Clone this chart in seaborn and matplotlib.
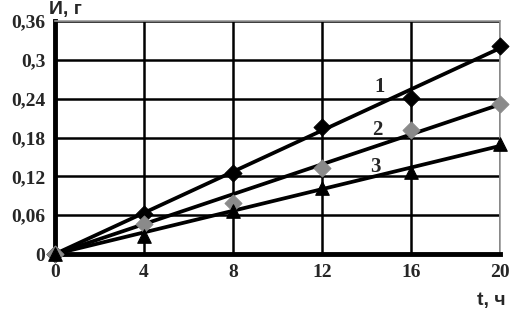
import numpy as np
import pandas as pd
import matplotlib
matplotlib.use("Agg")
import matplotlib.pyplot as plt
import seaborn as sns

t = [0, 4, 8, 12, 16, 20]
m1 = [0, 0.062, 0.125, 0.196, 0.241, 0.321]
m2 = [0, 0.046, 0.079, 0.133, 0.192, 0.232]
m3 = [0, 0.028, 0.066, 0.102, 0.127, 0.170]

# straight fit lines (start and end values)
fit_t = [0, 20]
fit1 = [0, 0.318]
fit2 = [0, 0.231]
fit3 = [0, 0.167]

curve_labels = ["1", "2", "3"]
label_t = [14.6, 14.5, 14.4]
label_y = [0.258, 0.191, 0.134]

x_ticks = [0, 4, 8, 12, 16, 20]
y_ticks = [0, 0.06, 0.12, 0.18, 0.24, 0.30, 0.36]
y_ticklabels = ["0", "0,06", "0,12", "0,18", "0,24", "0,3", "0,36"]

sns.set_style("white")
fig = plt.figure(figsize=(5.12, 3.10), dpi=100)
ax = fig.add_axes([0.1074, 0.1806, 0.8692, 0.7517])

# fit lines
for fy in [fit1, fit2, fit3]:
    sns.lineplot(x=fit_t, y=fy, color="black", linewidth=2.7, ax=ax, zorder=3)

# markers
sns.scatterplot(x=t, y=m1, marker="D", color="black", s=75, edgecolor="black",
                ax=ax, zorder=4, clip_on=False)
sns.scatterplot(x=t, y=m2, marker="D", color="#8a8a8a", s=75, edgecolor="#8a8a8a",
                ax=ax, zorder=4, clip_on=False)
sns.scatterplot(x=t, y=m3, marker="^", color="black", s=95, edgecolor="black",
                ax=ax, zorder=4, clip_on=False)

for lab, lx, ly in zip(curve_labels, label_t, label_y):
    ax.text(lx, ly, lab, fontsize=15, fontweight="bold", family="Liberation Serif",
            ha="center", va="center", zorder=5)

ax.set_xlim(0, 20)
ax.set_ylim(0, 0.36)
ax.set_xticks(x_ticks)
ax.set_yticks(y_ticks)
ax.set_yticklabels(y_ticklabels)
ax.grid(True, color="black", linewidth=1.8)
ax.set_axisbelow(True)
ax.tick_params(length=0, pad=7)
for lbl in ax.get_xticklabels() + ax.get_yticklabels():
    lbl.set_family("Liberation Serif")
    lbl.set_fontweight("bold")
    lbl.set_fontsize(14)

for side in ["left", "bottom"]:
    ax.spines[side].set_color("black")
    ax.spines[side].set_linewidth(3.5)
for side in ["top", "right"]:
    ax.spines[side].set_color("#999999")
    ax.spines[side].set_linewidth(1.2)

fig.text(0.127, 0.968, "И, г", fontsize=14, fontweight="bold", family="Liberation Sans",
         ha="center", va="center")
fig.text(0.959, 0.03, "t, ч", fontsize=14, fontweight="bold", family="Liberation Sans",
         ha="center", va="center")

fig.savefig("out.png", dpi=100)
